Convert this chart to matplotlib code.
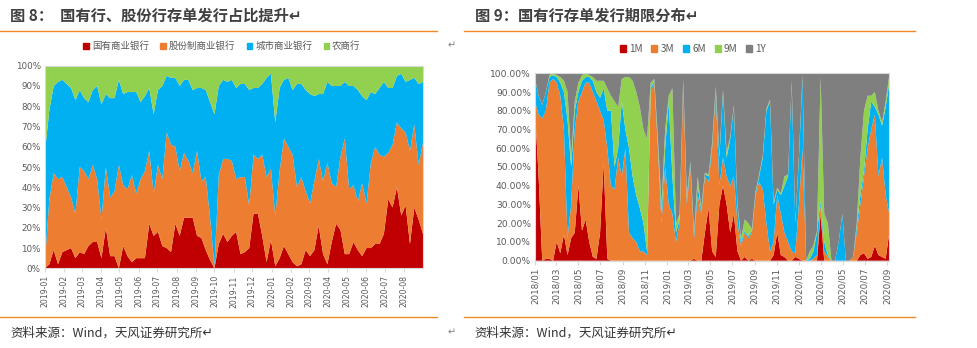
import matplotlib
matplotlib.use("Agg")
import matplotlib.pyplot as plt
from matplotlib.lines import Line2D
from matplotlib.patches import Patch
import pandas as pd

plt.rcParams["font.family"] = ["Noto Sans CJK SC", "DejaVu Sans"]

RED = "#C00000"
ORANGE = "#ED7D31"
BLUE = "#00B0F0"
GREEN = "#92D050"
GRAY = "#7F7F7F"
RULE = "#F08A24"
TEXT = "#404040"
TICK = "#595959"

# ---- figure 8: share of CD issuance by bank type (weekly, %) ----
bank_dates = pd.date_range("2019-01-01", periods=88, freq="7D")
bank_names = ["国有商业银行", "股份制商业银行", "城市商业银行", "农商行"]
soe_share = [0, 2, 9, 2, 8, 9, 10, 5, 8, 7,
             11, 13, 13, 5, 20, 6, 6, 0, 11, 6,
             3, 5, 5, 5, 22, 16, 18, 11, 10, 8,
             22, 16, 25, 25, 25, 16, 15, 9, 4, 0,
             12, 17, 13, 16, 18, 7, 8, 10, 27, 27,
             16, 3, 14, 1, 5, 11, 7, 3, 1, 2,
             9, 6, 9, 21, 7, 2, 13, 22, 19, 7,
             7, 13, 9, 6, 10, 10, 12, 12, 17, 34,
             30, 40, 26, 31, 12, 30, 24, 17]
jsb_share = [4, 32, 38, 42, 37, 31, 25, 22, 42, 41,
             33, 38, 31, 19, 30, 29, 32, 51, 30, 33,
             43, 32, 39, 43, 36, 21, 33, 33, 57, 53,
             38, 32, 32, 28, 22, 42, 28, 36, 21, 1,
             34, 37, 41, 37, 26, 38, 37, 21, 29, 27,
             40, 42, 35, 25, 43, 53, 53, 53, 39, 43,
             29, 26, 34, 33, 36, 50, 29, 18, 36, 57,
             32, 28, 24, 36, 22, 42, 48, 44, 38, 23,
             31, 32, 43, 36, 46, 41, 27, 45]
city_share = [54, 44, 43, 48, 48, 51, 54, 56, 38, 36,
              38, 37, 46, 57, 36, 49, 46, 42, 45, 48,
              41, 50, 38, 37, 31, 39, 37, 46, 28, 33,
              34, 42, 36, 40, 41, 31, 46, 43, 57, 75,
              44, 39, 38, 40, 45, 46, 46, 57, 33, 35,
              35, 49, 47, 46, 41, 29, 34, 32, 51, 46,
              50, 54, 42, 32, 43, 40, 48, 50, 35, 28,
              51, 49, 55, 43, 51, 35, 26, 33, 37, 32,
              28, 23, 27, 25, 35, 23, 40, 30]
rural_share = [42, 22, 10, 8, 7, 9, 11, 17, 12, 16,
               18, 12, 10, 19, 14, 16, 16, 7, 14, 13,
               13, 13, 18, 15, 11, 24, 12, 10, 5, 6,
               6, 10, 7, 7, 12, 11, 11, 12, 18, 24,
               10, 7, 8, 7, 11, 9, 9, 12, 11, 11,
               9, 6, 4, 28, 11, 7, 6, 12, 9, 9,
               12, 14, 15, 14, 14, 8, 10, 10, 10, 8,
               10, 10, 12, 15, 17, 13, 14, 11, 8, 11,
               11, 5, 4, 8, 7, 6, 9, 8]
bank_ticks = pd.date_range("2019-01-01", "2020-08-01", freq="MS")

# ---- figure 9: tenor mix of state-owned bank CDs (%) ----
tenor_dates = pd.date_range("2018-01-01", periods=99, freq="10D")
tenor_names = ["1M", "3M", "6M", "9M", "1Y"]
m1 = [80, 45, 0, 1, 1, 0, 10, 4, 14, 3,
      12, 15, 40, 16, 22, 10, 2, 1, 15, 52,
      1, 0, 0, 0, 0, 0, 0, 0, 0, 0,
      0, 0, 0, 0, 0, 0, 0, 0, 0, 0,
      0, 0, 0, 0, 1, 0, 0, 15, 28, 5,
      2, 30, 40, 30, 15, 25, 5, 0, 2, 0,
      1, 0, 0, 0, 0, 0, 3, 15, 3, 2,
      0, 0, 2, 1, 0, 0, 0, 0, 0, 25,
      0, 0, 0, 0, 0, 0, 0, 0, 0, 0,
      3, 4, 1, 2, 8, 3, 2, 1, 15]
m3 = [5, 33, 76, 79, 94, 97, 85, 84, 56, 9,
      18, 55, 45, 74, 73, 85, 88, 84, 65, 23,
      59, 40, 38, 55, 45, 60, 15, 12, 10, 5,
      5, 3, 90, 95, 60, 20, 50, 30, 25, 10,
      20, 95, 30, 50, 11, 35, 25, 30, 14, 55,
      88, 10, 15, 15, 25, 20, 15, 8, 13, 12,
      14, 35, 42, 38, 20, 5, 7, 20, 22, 13,
      10, 5, 2, 29, 60, 0, 0, 1, 3, 5,
      5, 2, 0, 0, 0, 0, 0, 0, 2, 15,
      27, 41, 59, 68, 70, 42, 53, 34, 10]
m6 = [12, 10, 7, 10, 3, 2, 3, 7, 20, 63,
      20, 10, 5, 6, 3, 3, 6, 5, 7, 17,
      20, 40, 12, 5, 40, 10, 45, 33, 25, 23,
      15, 2, 2, 1, 2, 5, 10, 55, 20, 5,
      2, 1, 3, 2, 2, 5, 2, 1, 3, 2,
      2, 15, 35, 10, 25, 37, 10, 2, 1, 1,
      1, 1, 3, 17, 60, 80, 20, 3, 10, 25,
      35, 90, 16, 25, 38, 0, 1, 4, 12, 2,
      5, 1, 0, 0, 10, 25, 0, 0, 0, 3,
      5, 3, 10, 15, 4, 33, 17, 47, 70]
m9 = [0, 0, 0, 0, 1, 1, 1, 3, 6, 15,
      5, 5, 5, 3, 2, 1, 2, 6, 9, 4,
      12, 8, 35, 22, 12, 28, 38, 51, 55, 54,
      50, 60, 3, 1, 3, 5, 10, 3, 47, 5,
      3, 1, 2, 1, 1, 5, 1, 1, 1, 1,
      1, 2, 1, 3, 1, 1, 1, 2, 6, 7,
      1, 1, 1, 1, 1, 1, 1, 1, 1, 5,
      1, 1, 1, 1, 1, 0, 4, 3, 1, 66,
      15, 17, 0, 0, 0, 0, 0, 0, 0, 2,
      20, 32, 18, 3, 8, 2, 2, 3, 4]
y1 = [3, 12, 17, 10, 1, 0, 1, 2, 4, 10,
      45, 15, 5, 1, 0, 1, 2, 4, 4, 4,
      8, 12, 15, 18, 3, 2, 2, 4, 10, 18,
      30, 35, 5, 3, 35, 70, 30, 12, 8, 80,
      75, 3, 65, 47, 85, 55, 72, 53, 54, 37,
      7, 43, 9, 42, 34, 17, 69, 88, 78, 80,
      83, 63, 54, 44, 19, 14, 69, 61, 64, 55,
      54, 4, 79, 44, 1, 100, 95, 92, 84, 2,
      75, 80, 100, 100, 90, 75, 100, 100, 98, 80,
      45, 20, 12, 12, 10, 20, 26, 15, 1]
tenor_ticks = pd.date_range("2018-01-01", "2020-09-01", freq="2MS")


def style_axis(ax, yticks, ylabels, xticks, xfmt, xsize, ysize):
    ax.set_ylim(0, 100)
    ax.set_yticks(yticks)
    ax.set_yticklabels(ylabels, fontsize=ysize, color=TICK, family="DejaVu Sans")
    ax.set_xticks(xticks)
    ax.set_xticklabels([d.strftime(xfmt) for d in xticks], rotation=90,
                       fontsize=xsize, color=TICK, family="DejaVu Sans")
    ax.tick_params(axis="y", length=0, pad=3)
    ax.tick_params(axis="x", length=3, color="#D9D9D9", pad=2)
    for s in ax.spines.values():
        s.set_color("#D9D9D9")
        s.set_linewidth(0.8)


fig = plt.figure(figsize=(9.77, 3.48), dpi=100)

# left panel
ax1 = fig.add_axes([45 / 977, 1 - 268.3 / 348, 378 / 977, 202.6 / 348])
ax1.stackplot(bank_dates, soe_share, jsb_share, city_share, rural_share,
              colors=[RED, ORANGE, BLUE, GREEN], linewidth=0)
ax1.set_xlim(bank_dates[0], bank_dates[-1])
style_axis(ax1, range(0, 101, 10), [f"{v}%" for v in range(0, 101, 10)],
           bank_ticks, "%Y-%m", 5.6, 6.3)
fig.legend(handles=[Patch(color=c, label=n) for c, n in
                    zip([RED, ORANGE, BLUE, GREEN], bank_names)],
           loc="center", bbox_to_anchor=(222 / 977, 1 - 46 / 348), ncol=4,
           frameon=False, fontsize=6.8, handlelength=0.6, handleheight=0.6,
           handletextpad=0.3, columnspacing=1.2, labelcolor=TICK)

# right panel
ax2 = fig.add_axes([535 / 977, 1 - 260.7 / 348, 354.3 / 977, 187.4 / 348])
ax2.stackplot(tenor_dates, m1, m3, m6, m9, y1,
              colors=[RED, ORANGE, BLUE, GREEN, GRAY], linewidth=0)
ax2.set_xlim(tenor_dates[0], tenor_dates[-1])
style_axis(ax2, range(0, 101, 10), [f"{v:.2f}%" for v in range(0, 101, 10)],
           tenor_ticks, "%Y/%m", 6.3, 6.6)
fig.legend(handles=[Patch(color=c, label=n) for c, n in
                    zip([RED, ORANGE, BLUE, GREEN, GRAY], tenor_names)],
           loc="center", bbox_to_anchor=(693 / 977, 1 - 49 / 348), ncol=5,
           frameon=False, fontsize=7.2, handlelength=0.6, handleheight=0.6,
           handletextpad=0.3, columnspacing=0.9, labelcolor=TICK)

# titles, rules and source notes
fig.text(10 / 977, 1 - 16 / 348, "图 8：  国有行、股份行存单发行占比提升↵",
         fontsize=11, fontweight="bold", color=TEXT, va="center")
fig.text(475 / 977, 1 - 16 / 348, "图 9：国有行存单发行期限分布↵",
         fontsize=11, fontweight="bold", color=TEXT, va="center")
for x0, x1 in [(0, 437), (464, 915)]:
    for y in (30.5, 316.7):
        fig.add_artist(Line2D([x0 / 977, x1 / 977], [1 - y / 348, 1 - y / 348],
                              color=RULE, linewidth=1.0))
for x in (10, 474):
    fig.text(x / 977, 1 - 333 / 348, "资料来源：Wind，天风证券研究所↵",
             fontsize=9, color="#333333", va="center")
fig.text(448 / 977, 1 - 45 / 348, "↵", fontsize=7, color="#808080", va="center")
fig.text(448 / 977, 1 - 332 / 348, "↵", fontsize=7, color="#808080", va="center")

fig.savefig("out.png", dpi=100)
